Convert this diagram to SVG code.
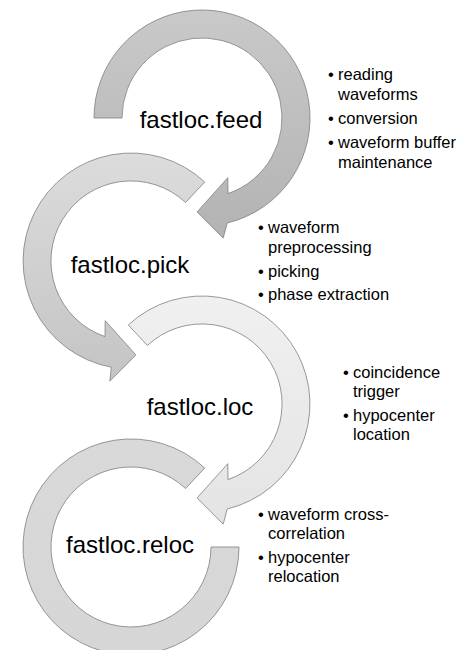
<svg xmlns="http://www.w3.org/2000/svg" width="464" height="650" viewBox="0 0 464 650">
<style>
.arc{stroke:#7f7f7f;stroke-width:0.8;stroke-linejoin:miter}
.lbl{font-family:"Liberation Sans",Arial,sans-serif;font-size:24px;fill:#000;text-anchor:middle}
.bl{font-family:"Liberation Sans",Arial,sans-serif;font-size:16.5px;fill:#000}
</style>
<defs>
<linearGradient id="gFeed" x1="0" y1="0" x2="0" y2="1"><stop offset="0" stop-color="#c9c9c9"/><stop offset="1" stop-color="#b3b3b3"/></linearGradient>
<linearGradient id="gPick" x1="0" y1="0" x2="0" y2="1"><stop offset="0" stop-color="#dcdcdc"/><stop offset="1" stop-color="#c4c4c4"/></linearGradient>
<linearGradient id="gLoc" x1="0" y1="0" x2="0" y2="1"><stop offset="0" stop-color="#f0f0f0"/><stop offset="1" stop-color="#e4e4e4"/></linearGradient>
<linearGradient id="gReloc" x1="0" y1="0" x2="0" y2="1"><stop offset="0" stop-color="#d9d9d9"/><stop offset="1" stop-color="#d6d6d6"/></linearGradient>
</defs>
<g id="connectors">
<path id="arrow-feed" class="arc" fill="url(#gFeed)" d="M94,118 A108,108 0 1 1 227.2,223.0 L223.2,238.1 L197.1,211.9 L227.8,177.7 L228.0,193.6 A80,80 0 1 0 122,118 Z"/>
<path id="arrow-pick" class="arc" fill="url(#gPick)" d="M204.7,182.0 A108,108 0 1 0 111.3,367.2 L109.8,381.1 L135.9,354.9 L105.2,320.7 L105.0,336.6 A80,80 0 1 1 185.6,202.5 Z"/>
<path id="arrow-loc" class="arc" fill="url(#gLoc)" d="M128.3,325.0 A108,108 0 1 1 227.2,509.0 L223.2,524.1 L197.1,497.9 L227.8,463.7 L228.0,479.6 A80,80 0 1 0 147.4,345.5 Z"/>
<path id="arc-reloc" class="arc" fill="url(#gReloc)" d="M204.7,468.0 A108,108 0 1 0 239,547 L211,547 A80,80 0 1 1 185.6,488.5 Z"/>
</g>
<g id="node-feed">
<text class="lbl" x="201" y="128">fastloc.feed</text>
<text class="bl" x="328" y="80">•</text><text class="bl" x="338" y="80">reading</text>
<text class="bl" x="338" y="100">waveforms</text>
<text class="bl" x="328" y="124">•</text><text class="bl" x="338" y="124">conversion</text>
<text class="bl" x="328" y="148">•</text><text class="bl" x="338" y="148">waveform buffer</text>
<text class="bl" x="338" y="168">maintenance</text>
</g>
<g id="node-pick">
<text class="lbl" x="130" y="273">fastloc.pick</text>
<text class="bl" x="258" y="233">•</text><text class="bl" x="268" y="233">waveform</text>
<text class="bl" x="268" y="253">preprocessing</text>
<text class="bl" x="258" y="277">•</text><text class="bl" x="268" y="277">picking</text>
<text class="bl" x="258" y="300">•</text><text class="bl" x="268" y="300">phase extraction</text>
</g>
<g id="node-loc">
<text class="lbl" x="200" y="415">fastloc.loc</text>
<text class="bl" x="343" y="378">•</text><text class="bl" x="353" y="378">coincidence</text>
<text class="bl" x="353" y="397">trigger</text>
<text class="bl" x="343" y="421">•</text><text class="bl" x="353" y="421">hypocenter</text>
<text class="bl" x="353" y="440">location</text>
</g>
<g id="node-reloc">
<text class="lbl" x="130" y="553">fastloc.reloc</text>
<text class="bl" x="258" y="520">•</text><text class="bl" x="268" y="520">waveform cross-</text>
<text class="bl" x="268" y="539">correlation</text>
<text class="bl" x="258" y="563">•</text><text class="bl" x="268" y="563">hypocenter</text>
<text class="bl" x="268" y="582">relocation</text>
</g>
</svg>
